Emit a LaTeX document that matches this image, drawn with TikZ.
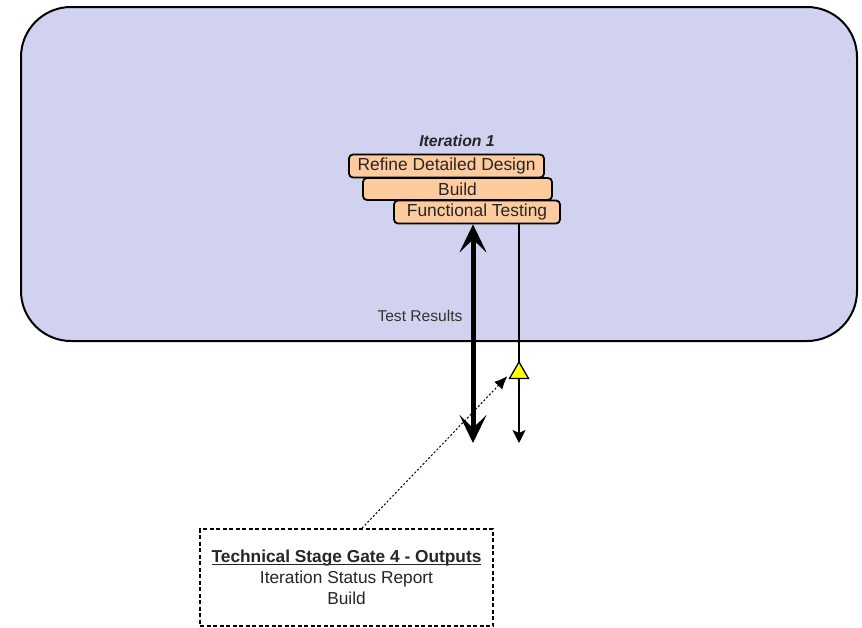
\documentclass[tikz,border=0pt]{standalone}
\usepackage{fontspec}
\setmainfont{Liberation Sans}
\usetikzlibrary{arrows.meta,shapes.geometric}
\definecolor{phasefill}{HTML}{D1D1F0}
\definecolor{taskfill}{HTML}{FDCB9D}
\definecolor{gatetri}{HTML}{FFFF00}
% underline set close to the baseline
\newcommand\gateunderline[1]{\setbox0\hbox{#1}\rlap{\rule[-2.2pt]{\wd0}{1.1pt}}\box0}
\tikzset{
  taskbox/.style={draw=black, line width=1.8pt, fill=taskfill, rounded corners=4pt,
    inner sep=0pt, font=\fontsize{17.4}{20}\selectfont, text=black!85},
  gatebox/.style={draw=black, line width=1.6pt, dash pattern=on 4pt off 2.5pt,
    fill=white, inner sep=0pt, align=center, font=\fontsize{17.3}{21}\selectfont, text=black!85},
  heavyflow/.style={line width=5pt, {Stealth[length=28pt,width=27pt,inset=13pt]}-{Stealth[length=28pt,width=27pt,inset=13pt]}},
  thinflow/.style={line width=1.5pt, -{Stealth[length=13pt,width=13pt,inset=3pt]}},
  noteflow/.style={line width=1pt, dash pattern=on 2pt off 2pt, -{Latex[length=13pt,width=11pt]}}
}
\begin{document}
\begin{tikzpicture}[x=1pt,y=-1pt]
  \useasboundingbox (0,0) rectangle (862,627);

  % iteration phase background
  \draw[line width=2pt, fill=phasefill, rounded corners=50pt] (21,7) rectangle (857,341);

  \node[font=\bfseries\itshape\fontsize{15.8}{18}\selectfont, text=black!85] (iter) at (457,141) {Iteration 1};

  % tasks of the iteration
  \node[taskbox, minimum width=195pt, minimum height=23pt] (refine) at (446.5,166) {Refine Detailed Design};
  \node[taskbox, minimum width=189pt, minimum height=22pt] (build) at (457.5,189) {Build};
  \node[taskbox, minimum width=166pt, minimum height=23pt] (func) at (477,212) {Functional Testing};

  % flow endpoints below the phase
  \coordinate (heavyend) at (473,443);
  \coordinate (thinend) at (519,443);

  \draw[heavyflow] (func.south -| heavyend) -- (heavyend);
  \node[anchor=east, font=\fontsize{15.6}{18}\selectfont, text=black!80] (results) at (466,316) {Test Results};

  % stage gate marker on the thin flow
  \draw[thinflow] (func.south -| thinend) -- (thinend);
  \node[regular polygon, regular polygon sides=3, minimum size=22pt, inner sep=0pt,
        draw=black, line width=1.3pt, fill=gatetri] (tri) at (519,373) {};

  % stage gate outputs
  \node[gatebox, minimum width=293pt, minimum height=97pt] (gate) at (346.5,577.5)
    {\gateunderline{\textbf{Technical Stage Gate 4 - Outputs}}\\Iteration Status Report\\Build};

  \draw[noteflow] (gate.north -| 362,0) -- ([xshift=-1pt,yshift=3pt]tri.corner 2);
\end{tikzpicture}
\end{document}
